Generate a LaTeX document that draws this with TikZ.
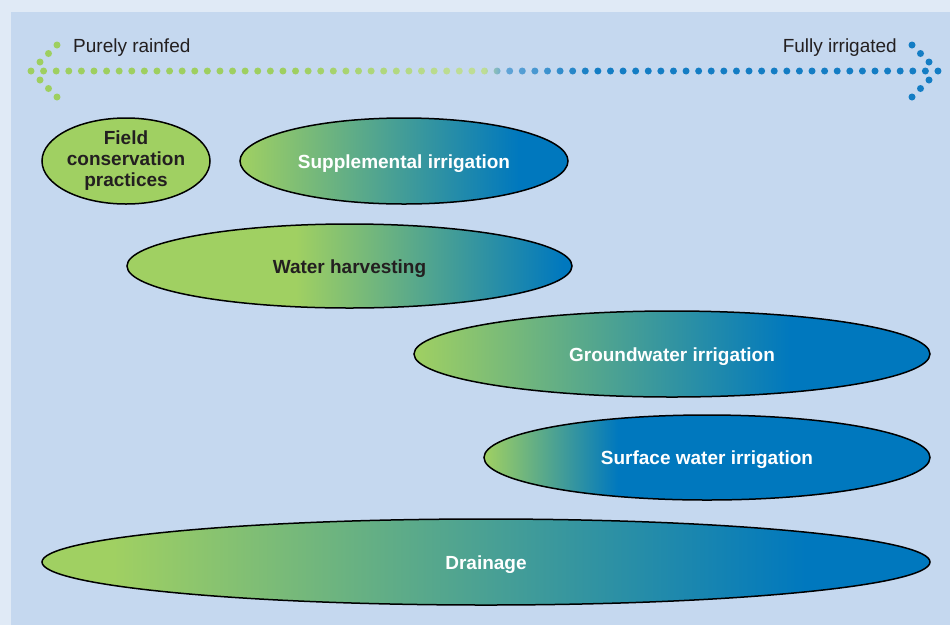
\documentclass[tikz,border=0pt]{standalone}
\usepackage{fontspec}
\setmainfont{Liberation Sans}
\usetikzlibrary{shapes.geometric}
\definecolor{outerbg}{RGB}{224,234,246}
\definecolor{panelbg}{RGB}{197,216,239}
\definecolor{cg}{RGB}{160,208,98}
\definecolor{cb}{RGB}{0,120,190}
\definecolor{dg}{RGB}{158,207,96}
\definecolor{dgp}{RGB}{190,221,149}
\definecolor{dbp}{RGB}{100,166,216}
\definecolor{db}{RGB}{20,125,196}
\definecolor{txt}{RGB}{35,31,32}
\pgfdeclarehorizontalshading{dotshade}{100bp}{color(0bp)=(dg); color(39.5bp)=(dg); color(48.5bp)=(dgp); color(50bp)=(dgp); color(51bp)=(dbp); color(56bp)=(db); color(100bp)=(db)}
\pgfdeclarehorizontalshading{supsh}{100bp}{color(0bp)=(cg); color(25bp)=(cg); color(67.5bp)=(cb); color(100bp)=(cb)}
\pgfdeclarehorizontalshading{harsh}{100bp}{color(0bp)=(cg); color(44bp)=(cg); color(74bp)=(cb); color(100bp)=(cb)}
\pgfdeclarehorizontalshading{grosh}{100bp}{color(0bp)=(cg); color(25bp)=(cg); color(61.5bp)=(cb); color(100bp)=(cb)}
\pgfdeclarehorizontalshading{sursh}{100bp}{color(0bp)=(cg); color(25bp)=(cg); color(40bp)=(cb); color(100bp)=(cb)}
\pgfdeclarehorizontalshading{drash}{100bp}{color(0bp)=(cg); color(29bp)=(cg); color(68bp)=(cb); color(100bp)=(cb)}
\tikzset{
  blob/.style={ellipse, draw=black, line width=1.5pt, inner sep=0pt, font=\fontsize{19}{21}\selectfont\bfseries},
  oneline/.style={text height=18pt, text depth=4pt},
  wtxt/.style={text=white},
  dtxt/.style={text=txt},
  endlabel/.style={font=\fontsize{19}{21}\selectfont, text=txt, inner sep=0pt}
}
\begin{document}
\begin{tikzpicture}[x=1pt,y=-1pt]
\useasboundingbox (0,0) rectangle (950,625);
\fill[outerbg] (0,0) rectangle (950,625);
\fill[panelbg] (11,12) rectangle (950,625);
% dotted double arrow
\shade[shading=dotshade]
  \foreach \i in {0,...,72} {(31+\i*12.597,71) circle[radius=3.5]}
  (40,62) circle[radius=3.5] (48.5,53.5) circle[radius=3.5] (57,45) circle[radius=3.5]
  (40,80) circle[radius=3.5] (48.5,88.5) circle[radius=3.5] (57,97) circle[radius=3.5]
  (929,62) circle[radius=3.5] (920.5,53.5) circle[radius=3.5] (912,45) circle[radius=3.5]
  (929,80) circle[radius=3.5] (920.5,88.5) circle[radius=3.5] (912,97) circle[radius=3.5];
\node[endlabel, anchor=base west] (rain) at (73,52) {Purely rainfed};
\node[endlabel, anchor=base east] (irr) at (897,52) {Fully irrigated};
% ellipses
\node[blob, dtxt, fill=cg, minimum width=168pt, minimum height=86pt, align=center] (field) at (126,161) {Field\\conservation\\practices};
\node[blob, oneline, wtxt, shading=supsh, minimum width=328pt, minimum height=86pt] (sup) at (404,161) {Supplemental irrigation};
\node[blob, oneline, dtxt, shading=harsh, minimum width=445pt, minimum height=84pt] (har) at (349.5,266) {Water harvesting};
\node[blob, oneline, wtxt, shading=grosh, minimum width=516pt, minimum height=86pt] (gro) at (672,354) {Groundwater irrigation};
\node[blob, oneline, wtxt, shading=sursh, minimum width=446pt, minimum height=85pt] (sur) at (707,457.5) {Surface water irrigation};
\node[blob, oneline, wtxt, shading=drash, minimum width=888pt, minimum height=86pt] (dra) at (486,562) {Drainage};
\end{tikzpicture}
\end{document}
